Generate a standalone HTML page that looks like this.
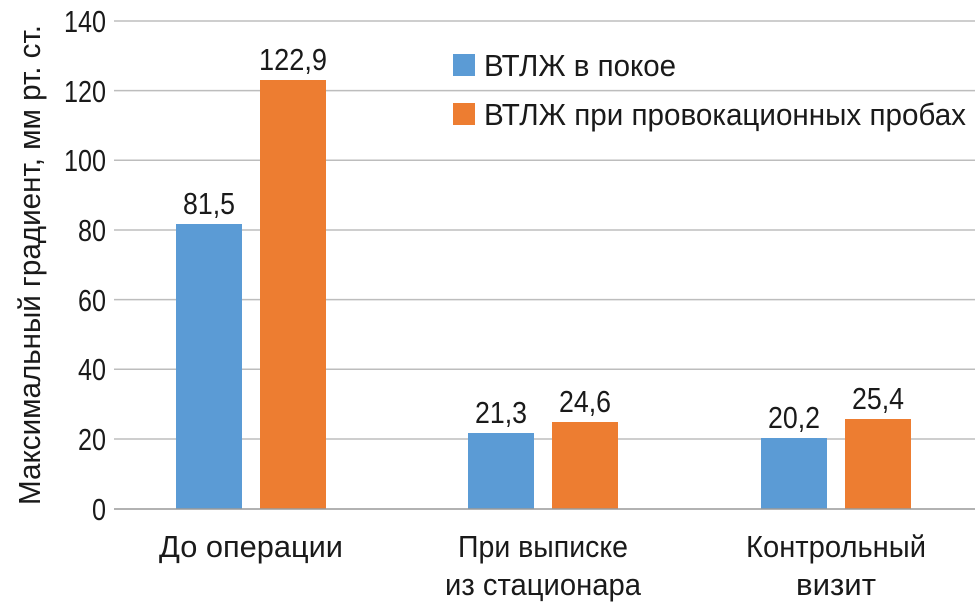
<!DOCTYPE html>
<html><head><meta charset="utf-8"><style>
html,body{margin:0;padding:0;background:#fff}
svg text{font-family:"Liberation Sans Narrow","Liberation Sans","DejaVu Sans Condensed",sans-serif;fill:#1a1a1a}
</style></head><body>
<svg width="980" height="607" viewBox="0 0 980 607" xmlns="http://www.w3.org/2000/svg">
<g stroke="#bdbdbd" stroke-width="1.5">
<line x1="114" y1="21" x2="975" y2="21"/>
<line x1="114" y1="90.6" x2="975" y2="90.6"/>
<line x1="114" y1="160.3" x2="975" y2="160.3"/>
<line x1="114" y1="230" x2="975" y2="230"/>
<line x1="114" y1="299.6" x2="975" y2="299.6"/>
<line x1="114" y1="369.3" x2="975" y2="369.3"/>
<line x1="114" y1="439" x2="975" y2="439"/>
</g>
<g font-size="31" text-anchor="end">
<text x="106" y="32" textLength="42" lengthAdjust="spacingAndGlyphs">140</text>
<text x="106" y="102" textLength="42" lengthAdjust="spacingAndGlyphs">120</text>
<text x="106" y="171" textLength="42" lengthAdjust="spacingAndGlyphs">100</text>
<text x="106" y="241" textLength="28" lengthAdjust="spacingAndGlyphs">80</text>
<text x="106" y="311" textLength="28" lengthAdjust="spacingAndGlyphs">60</text>
<text x="106" y="380" textLength="28" lengthAdjust="spacingAndGlyphs">40</text>
<text x="106" y="450" textLength="28" lengthAdjust="spacingAndGlyphs">20</text>
<text x="106" y="520" textLength="14" lengthAdjust="spacingAndGlyphs">0</text>
</g>
<text transform="translate(40,265) rotate(-90)" font-size="31" text-anchor="middle" textLength="480" lengthAdjust="spacingAndGlyphs">Максимальный градиент, мм рт. ст.</text>
<g fill="#5b9bd5">
<rect x="176" y="224" width="66" height="285"/>
<rect x="468" y="433" width="66" height="76"/>
<rect x="761" y="438" width="66" height="71"/>
</g>
<g fill="#ed7d31">
<rect x="260" y="80" width="66" height="429"/>
<rect x="552" y="422" width="66" height="87"/>
<rect x="845" y="419" width="66" height="90"/>
</g>
<line x1="114" y1="509" x2="975" y2="509" stroke="#999" stroke-width="1.5"/>
<g font-size="31" text-anchor="middle">
<text x="209" y="214" textLength="52" lengthAdjust="spacingAndGlyphs">81,5</text>
<text x="293" y="70" textLength="68" lengthAdjust="spacingAndGlyphs">122,9</text>
<text x="501" y="423" textLength="52" lengthAdjust="spacingAndGlyphs">21,3</text>
<text x="585" y="412" textLength="52" lengthAdjust="spacingAndGlyphs">24,6</text>
<text x="794" y="428" textLength="52" lengthAdjust="spacingAndGlyphs">20,2</text>
<text x="878" y="409" textLength="52" lengthAdjust="spacingAndGlyphs">25,4</text>
<text x="251" y="557" textLength="184" lengthAdjust="spacingAndGlyphs">До операции</text>
<text x="543" y="557" textLength="170" lengthAdjust="spacingAndGlyphs">При выписке</text>
<text x="543" y="595" textLength="196" lengthAdjust="spacingAndGlyphs">из стационара</text>
<text x="836" y="557" textLength="180" lengthAdjust="spacingAndGlyphs">Контрольный</text>
<text x="836" y="595" textLength="80" lengthAdjust="spacingAndGlyphs">визит</text>
</g>
<rect x="453" y="54" width="22" height="22" fill="#5b9bd5"/>
<rect x="453" y="103" width="22" height="22" fill="#ed7d31"/>
<g font-size="31">
<text x="484" y="76" textLength="192" lengthAdjust="spacingAndGlyphs">ВТЛЖ в покое</text>
<text x="484" y="125" textLength="482" lengthAdjust="spacingAndGlyphs">ВТЛЖ при провокационных пробах</text>
</g>
</svg>
</body></html>
